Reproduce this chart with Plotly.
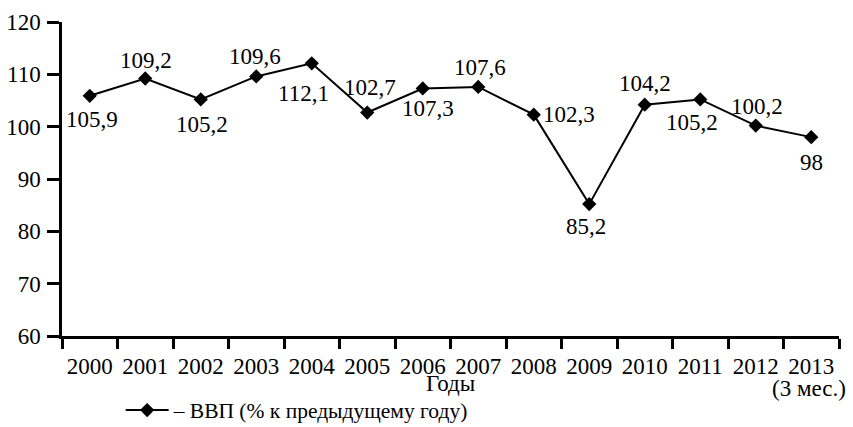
import plotly.graph_objects as go

years = ["2000", "2001", "2002", "2003", "2004", "2005", "2006",
         "2007", "2008", "2009", "2010", "2011", "2012", "2013"]
tick_labels = ["2000", "2001", "2002", "2003", "2004", "2005", "2006",
               "2007", "2008", "2009", "2010", "2011", "2012", "2013"]
last_note = "(3 мес.)"
gdp = [105.9, 109.2, 105.2, 109.6, 112.1, 102.7, 107.3,
       107.6, 102.3, 85.2, 104.2, 105.2, 100.2, 98]
gdp_labels = ["105,9", "109,2", "105,2", "109,6", "112,1", "102,7", "107,3",
              "107,6", "102,3", "85,2", "104,2", "105,2", "100,2", "98"]
series_name = "– ВВП (% к предыдущему году)"
x_title = "Годы"

# label offsets in pixels (style)
label_dx = [2, 1, 1, -1, -8, 3, 5, 2, 35, -3, 0, -8, 1, 0]
label_dy = [-24, 18, -25, 20, -30, 25, -20, 19, 0, -22, 21, -23, 19, -25]

FONT = "Liberation Serif"
FS = 23

fig = go.Figure()
fig.add_trace(go.Scatter(
    x=years, y=gdp, mode="lines+markers", name=series_name,
    line=dict(color="black", width=2),
    marker=dict(symbol="diamond", size=11, color="black"),
))

for i, (y, t, dx, dy) in enumerate(zip(gdp, gdp_labels, label_dx, label_dy)):
    fig.add_annotation(x=i, y=y, xref="x", yref="y", text=t, showarrow=False,
                       xshift=dx, yshift=dy,
                       font=dict(family=FONT, size=FS, color="black"))

fig.add_annotation(x=0.5, y=-0.150, xref="paper", yref="paper", text=x_title,
                   showarrow=False, yanchor="middle",
                   font=dict(family=FONT, size=FS, color="black"))

fig.add_annotation(x=len(years) - 1, y=-0.166, xref="x", yref="paper",
                   text=last_note, showarrow=False, yanchor="middle", xshift=-2,
                   font=dict(family=FONT, size=FS, color="black"))

fig.update_layout(
    width=853, height=427,
    margin=dict(l=62, r=14, t=22, b=91, autoexpand=False),
    paper_bgcolor="white", plot_bgcolor="white",
    font=dict(family=FONT, size=FS, color="black"),
    showlegend=True,
    legend=dict(x=0.0755, y=-0.236, xanchor="left", yanchor="middle",
                itemwidth=43,
                bgcolor="rgba(0,0,0,0)", font=dict(family=FONT, size=21.5)),
    xaxis=dict(
        type="category", tickmode="array", tickvals=years, ticktext=tick_labels,
        tickangle=0, automargin=False, ticklabelstandoff=8,
        tickson="boundaries", ticks="outside", ticklen=10, tickwidth=2.5,
        tickcolor="black", showline=True, linecolor="black", linewidth=2.5,
        showgrid=False, zeroline=False, range=[-0.5, 13.5],
        tickfont=dict(family=FONT, size=FS, color="black"),
    ),
    yaxis=dict(
        range=[60, 120], tickvals=[60, 70, 80, 90, 100, 110, 120],
        ticks="outside", ticklen=12, tickwidth=2.5, tickcolor="black",
        ticklabelstandoff=2,
        showline=True, linecolor="black", linewidth=2.5, automargin=False,
        showgrid=False, zeroline=False,
        tickfont=dict(family=FONT, size=FS, color="black"),
    ),
)

fig.write_html("out.html", config={"displayModeBar": False},
               post_script="document.body.style.margin='0';")
